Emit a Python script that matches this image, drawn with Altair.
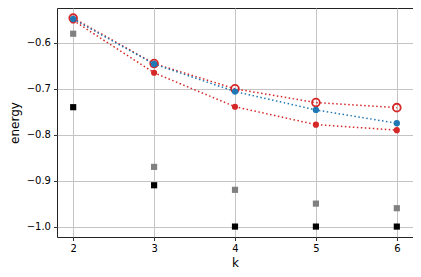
import altair as alt
import pandas as pd

k = [2, 3, 4, 5, 6]
gray_sq = [-0.58, -0.87, -0.92, -0.95, -0.96]
black_sq = [-0.74, -0.91, -1.0, -1.0, -1.0]
blue_dot = [-0.548, -0.646, -0.706, -0.746, -0.775]
red_fill = [-0.551, -0.665, -0.739, -0.778, -0.790]
red_open = [-0.546, -0.645, -0.700, -0.730, -0.741]

def df(vals):
    return pd.DataFrame({"k": k, "energy": vals})

xs = alt.Scale(domain=[1.8, 6.2], nice=False, zero=False)
ys = alt.Scale(domain=[-1.0227, -0.524], nice=False, zero=False)

X = alt.X("k:Q", scale=xs, title="k",
          axis=alt.Axis(values=[2, 3, 4, 5, 6], format="d"))
Y = alt.Y("energy:Q", scale=ys, title="energy",
          axis=alt.Axis(values=[-1.0, -0.9, -0.8, -0.7, -0.6], format=".1f"))

dash = [1.5, 2.5]

def sq(vals, color):
    return alt.Chart(df(vals)).mark_square(size=38, color=color, opacity=1).encode(x=X, y=Y)

def dotted(vals, color):
    return alt.Chart(df(vals)).mark_line(color=color, strokeWidth=1.5, strokeDash=dash).encode(x=X, y=Y)

layers = [
    sq(gray_sq, "#808080"),
    sq(black_sq, "#000000"),
    dotted(red_fill, "#d62728"),
    alt.Chart(df(red_fill)).mark_circle(size=38, color="#d62728", opacity=1).encode(x=X, y=Y),
    dotted(red_open, "#d62728"),
    alt.Chart(df(red_open)).mark_point(shape="circle", size=60, stroke="#d62728", strokeWidth=1.8, filled=False, opacity=1).encode(x=X, y=Y),
    dotted(blue_dot, "#1f77b4"),
    alt.Chart(df(blue_dot)).mark_circle(size=40, color="#1f77b4", opacity=1).encode(x=X, y=Y),
]

chart = alt.layer(*layers).properties(
    width=356, height=229,
    autosize=alt.AutoSizeParams(type="none"),
    padding={"left": 49, "top": 0, "right": 0, "bottom": 33},
).configure_view(
    stroke="#222222", strokeWidth=1
).configure_axis(
    labelFont="DejaVu Sans", titleFont="DejaVu Sans",
    labelFontSize=10, titleFontSize=12, titleFontWeight="normal",
    labelColor="#000000", titleColor="#000000",
    tickColor="#000000", tickSize=3.5, tickWidth=0.8,
    domain=False,
    grid=True, gridColor="#c4c4c4", gridWidth=1,
    labelPadding=3,
).configure_axisX(
    titlePadding=4
).configure_axisY(
    titlePadding=5
)

chart.save("out.html", embed_options={"renderer": "svg", "actions": False})
